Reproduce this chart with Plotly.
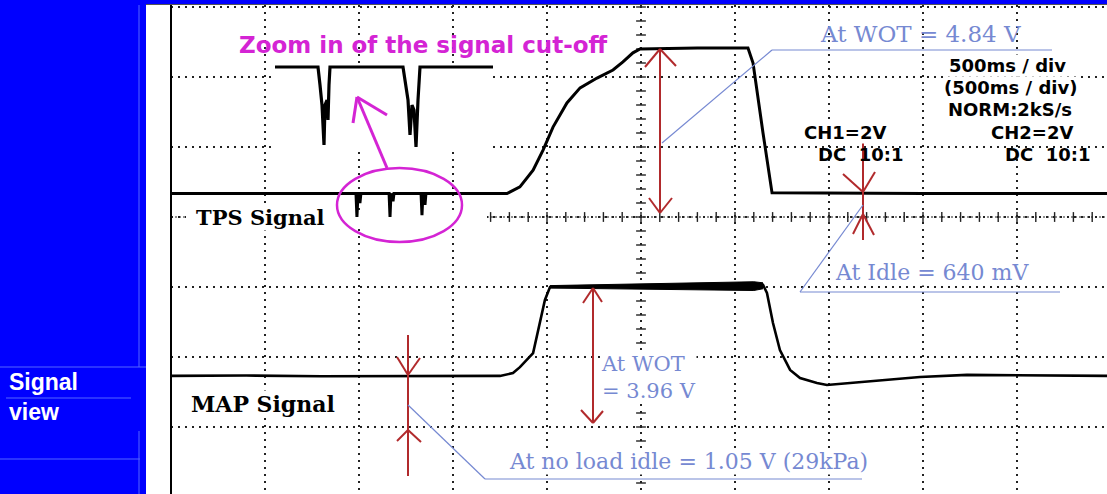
import numpy as np
import plotly.graph_objects as go

# ---------------- data ----------------
# time base 500 ms/div, CH1 = CH2 = 2 V/div
time_div_s = 0.5
volt_div = 2.0
ch2_offset_v = -6.0          # CH2 ground sits 3 divisions below the centre line

# TPS signal (CH1), seconds / volts
tps_t = [0.000, 0.984, 0.989, 0.995, 1.000, 1.005, 1.010,
         1.160, 1.165, 1.170, 1.176, 1.181, 1.186,
         1.330, 1.335, 1.340, 1.346, 1.351, 1.356,
         1.787, 1.856, 1.926, 1.979, 2.032, 2.106, 2.176, 2.266,
         2.351, 2.404, 2.457, 2.495, 2.800, 3.069, 3.096, 3.149,
         3.197, 4.000, 4.979]
tps_v = [0.67, 0.67, 0.00, 0.67, 0.67, 0.40, 0.67,
         0.67, 0.00, 0.67, 0.60, 0.45, 0.67,
         0.67, 0.05, 0.67, 0.67, 0.35, 0.67,
         0.67, 0.86, 1.34, 1.91, 2.57, 3.26, 3.69, 3.97,
         4.20, 4.43, 4.69, 4.80, 4.83, 4.83, 4.40, 2.40,
         0.69, 0.67, 0.67]

# MAP signal (CH2), seconds / volts
map_t = [0.000, 0.400, 0.800, 1.200, 1.750, 1.819, 1.856, 1.926, 1.963,
         1.989, 2.016, 2.400, 2.800, 3.149, 3.170, 3.202, 3.239, 3.293,
         3.346, 3.436, 3.489, 3.702, 3.984, 4.234, 4.600, 4.979]
map_v = [1.46, 1.47, 1.45, 1.46, 1.46, 1.54, 1.71, 2.11, 2.97,
         3.63, 4.00, 4.02, 4.04, 4.06, 3.83, 2.97, 2.20, 1.63,
         1.40, 1.26, 1.20, 1.29, 1.43, 1.49, 1.47, 1.46]
# noise envelope on the WOT plateau
map_band_t = [2.016, 2.300, 2.500, 2.800, 3.100, 3.149]
map_band_hi = [4.04, 4.07, 4.08, 4.12, 4.15, 4.12]
map_band_lo = [3.97, 3.95, 3.94, 3.92, 3.90, 3.95]

# hand-drawn zoom of the cut-off (relative units)
inset_x = [0, 43, 45, 47, 49, 50, 52, 53, 54, 55, 128, 130, 133, 135,
           137, 139, 141, 143, 145, 218]
inset_y = [1, 1, 0.775, 0.525, 0.025, 0.525, 0.5875, 0.3375, 0.775, 1,
           1, 0.8375, 0.5875, 0.15, 0.525, 0.4625, 0.0, 0.5875, 1, 1]

# ---------------- geometry helpers ----------------
W, H = 1107, 494
L, T = 171, 5
PX_PER_S = 188.0
PX_PER_V = 35.0
Y0_PX = 217.0


def X(px):
    return (px - L) / PX_PER_S


def Y(py):
    return (Y0_PX - py) / PX_PER_V


def PX(px):
    return (px - L) / (W - L)


def PY(py):
    return (H - py) / (H - T)


RED = "#B12A2C"
BLUE = "#7689D2"
MAG = "#D424D4"
SIDE = "#0000FF"
SIDE_LINE = "#5566FF"

fig = go.Figure()

# centre graticule line (dense) with ticks, leaving the label gap
gap0, gap1 = X(186), X(487)
fig.add_trace(go.Scatter(x=[0, gap0, None, gap1, X(W)], y=[0, 0, None, 0, 0],
                         mode="lines", line=dict(color="#222", width=1, dash="2px,2px"),
                         hoverinfo="skip", showlegend=False))
ht = np.round(np.arange(0, X(W), time_div_s / 5), 4)
ht = ht[(ht < gap0) | (ht > gap1)]
fig.add_trace(go.Scatter(x=ht, y=np.zeros_like(ht), mode="markers",
                         marker=dict(symbol="line-ns", size=7, line=dict(width=1.4, color="#222")),
                         hoverinfo="skip", showlegend=False))
vt = np.round(np.arange(-8, 6.4, volt_div / 5), 4)
fig.add_trace(go.Scatter(x=np.full_like(vt, 5 * time_div_s), y=vt, mode="markers",
                         marker=dict(symbol="line-ew", size=7, line=dict(width=1.4, color="#222")),
                         hoverinfo="skip", showlegend=False))

# MAP plateau noise band
fig.add_trace(go.Scatter(x=map_band_t, y=[v + ch2_offset_v for v in map_band_lo], mode="lines",
                         line=dict(color="black", width=1), hoverinfo="skip", showlegend=False))
fig.add_trace(go.Scatter(x=map_band_t, y=[v + ch2_offset_v for v in map_band_hi], mode="lines",
                         fill="tonexty", fillcolor="black",
                         line=dict(color="black", width=1), hoverinfo="skip", showlegend=False))
# signals
fig.add_trace(go.Scatter(x=map_t, y=[v + ch2_offset_v for v in map_v], mode="lines",
                         line=dict(color="black", width=2.6), name="MAP", showlegend=False))
fig.add_trace(go.Scatter(x=tps_t, y=tps_v, mode="lines",
                         line=dict(color="black", width=3), name="TPS", showlegend=False))

# inset drawing
fig.add_trace(go.Scatter(x=inset_x, y=inset_y, xaxis="x2", yaxis="y2", mode="lines",
                         line=dict(color="black", width=3.2), hoverinfo="skip", showlegend=False))

shapes = []


def seg(x0, y0, x1, y1, color, width, ref="data", layer="above"):
    if ref == "data":
        shapes.append(dict(type="line", xref="x", yref="y", x0=X(x0), y0=Y(y0), x1=X(x1), y1=Y(y1),
                           line=dict(color=color, width=width), layer=layer))
    else:
        shapes.append(dict(type="line", xref="paper", yref="paper", x0=PX(x0), y0=PY(y0),
                           x1=PX(x1), y1=PY(y1), line=dict(color=color, width=width), layer=layer))


def poly(pts, color, width):
    for (a, b), (c, d) in zip(pts[:-1], pts[1:]):
        seg(a, b, c, d, color, width)


# blank box behind label gap on centre line
shapes.append(dict(type="rect", xref="x", yref="y", x0=X(186), x1=X(487), y0=Y(224), y1=Y(210),
                   fillcolor="white", line=dict(width=0), layer="between"))

# sidebar
shapes.append(dict(type="rect", xref="paper", yref="paper", x0=PX(0), x1=PX(146), y0=PY(H), y1=PY(0),
                   fillcolor=SIDE, line=dict(width=0), layer="above"))
shapes.append(dict(type="rect", xref="paper", yref="paper", x0=PX(0), x1=PX(W), y0=PY(4), y1=PY(0),
                   fillcolor=SIDE, line=dict(width=0), layer="above"))
seg(146, 4.5, W, 4.5, "#555", 1, ref="paper")
seg(139, 5, 139, 367, SIDE_LINE, 1, ref="paper")
seg(0, 367, 146, 367, SIDE_LINE, 1, ref="paper")
seg(6, 398, 131, 398, SIDE_LINE, 1, ref="paper")
seg(0, 459, 140, 459, SIDE_LINE, 1, ref="paper")
seg(139, 431, 139, H, SIDE_LINE, 1, ref="paper")
# left border of screen
seg(171, 5, 171, H, "black", 2, ref="paper")

# red measurement arrows
poly([(660, 49), (660, 213)], RED, 2)
poly([(645, 67), (660, 49), (676, 66)], RED, 2)
poly([(649, 198), (660, 213), (672, 198)], RED, 2)

poly([(863, 141), (863, 240)], RED, 2)
poly([(843, 174), (863, 192), (875, 172)], RED, 2)
poly([(853, 234), (863, 214), (874, 235)], RED, 2)

poly([(408, 335), (408, 476)], RED, 2)
poly([(397, 357), (408, 375), (420, 358)], RED, 2)
poly([(397, 441), (408, 430), (421, 442)], RED, 2)

poly([(593, 288), (593, 423)], RED, 2)
poly([(583, 303), (593, 288), (602, 302)], RED, 2)
poly([(581, 410), (593, 423), (603, 411)], RED, 2)

# blue leader lines
poly([(662, 143), (772, 50), (1052, 50)], BLUE, 1.2)
poly([(863, 205), (800, 292), (1060, 292)], BLUE, 1.2)
poly([(408, 405), (485, 479), (862, 479)], BLUE, 1.2)

# magenta ellipse + arrow
shapes.append(dict(type="circle", xref="x", yref="y", x0=X(337), x1=X(462), y0=Y(242), y1=Y(168),
                   line=dict(color=MAG, width=2.5), layer="above"))
poly([(387, 168), (357, 97)], MAG, 3)
poly([(353, 123), (357, 97), (387, 115)], MAG, 3)

annotations = []


def ann(text, px, py, size, color, family, bold=False, bg=None, xanchor="center", ref="data",
        align="center"):
    d = dict(text=text, showarrow=False, xanchor=xanchor, yanchor="middle", borderpad=0,
             align=align,
             font=dict(family=family, size=size, color=color, weight="bold" if bold else "normal"),
             bgcolor=bg if bg else "rgba(0,0,0,0)")
    if ref == "data":
        d.update(x=X(px), y=Y(py), xref="x", yref="y")
    else:
        d.update(x=PX(px), y=PY(py), xref="paper", yref="paper")
    annotations.append(d)


SERIF = "DejaVu Serif"
SANS = "DejaVu Sans"

ann("Zoom in of the signal cut-off", 423, 45, 23, MAG, SANS, bold=True)
ann("TPS Signal", 260, 217, 21, "black", SERIF, bold=True, bg="white")
ann("MAP Signal", 263, 404, 22, "black", SERIF, bold=True, bg="white")

ann("At WOT = 4.84 V", 920, 34, 23, BLUE, SERIF)
ann("At Idle = 640 mV", 932, 272, 22, BLUE, SERIF, bg="white")
ann("At no load idle = 1.05 V (29kPa)", 688, 461, 22, BLUE, SERIF, bg="white")
ann("At WOT<br>= 3.96 V", 600, 377, 21, BLUE, SERIF, bg="white", xanchor="left", align="left")

ann("500ms / div", 1007, 65, 18, "black", SANS, bold=True, bg="white")
ann("(500ms / div)", 1010, 87, 18, "black", SANS, bold=True, bg="white")
ann("NORM:2kS/s", 1010, 109, 18, "black", SANS, bold=True, bg="white")
ann("CH1=2V", 845, 132, 18, "black", SANS, bold=True, bg="white")
ann("CH2=2V", 1032, 132, 18, "black", SANS, bold=True, bg="white")
ann("DC  10:1", 860, 154, 18, "black", SANS, bold=True)
ann("DC  10:1", 1047, 154, 18, "black", SANS, bold=True)

ann("<b>Signal</b><br><b>view</b>", 8, 397, 23, "white", "Liberation Sans", bold=True,
    xanchor="left", ref="paper", align="left")

grid_style = dict(showgrid=True, gridcolor="#222", gridwidth=1.6, griddash="2px,5px",
                  zeroline=False, showticklabels=False, ticks="", showline=False)

fig.update_layout(
    width=W, height=H,
    margin=dict(l=L, r=0, t=T, b=0, pad=0),
    paper_bgcolor="white", plot_bgcolor="white",
    xaxis=dict(range=[0, X(W)], tick0=0, dtick=time_div_s, fixedrange=True, **grid_style),
    yaxis=dict(range=[Y(H), Y(T)], tick0=0, dtick=volt_div, fixedrange=True, **grid_style),
    xaxis2=dict(domain=[PX(275), PX(493)], anchor="y2", range=[0, 218], visible=False),
    yaxis2=dict(domain=[PY(151), PY(63)], anchor="x2", range=[-0.05, 1.05], visible=False),
    shapes=shapes,
    annotations=annotations,
    showlegend=False,
)

fig.write_html("out.html", config={"displayModeBar": False},
               post_script="document.body.style.margin='0';document.body.style.overflow='hidden';")
